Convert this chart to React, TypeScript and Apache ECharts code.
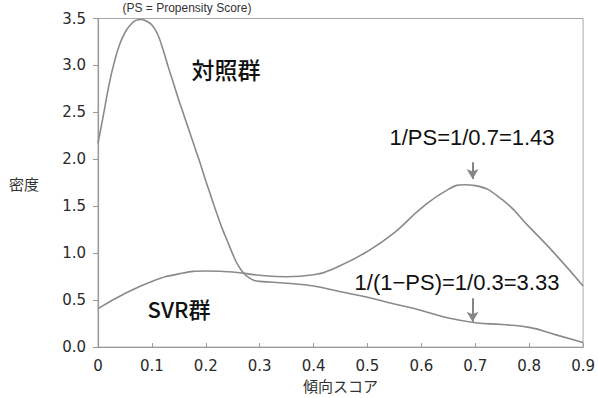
import React, { useEffect, useRef } from "react";
import * as echarts from "echarts";

const controlX = [0, 0.01, 0.02, 0.03, 0.04, 0.05, 0.06, 0.07, 0.08, 0.09, 0.1, 0.11, 0.12, 0.13, 0.14, 0.15, 0.16, 0.17, 0.18, 0.19, 0.2, 0.21, 0.22, 0.23, 0.24, 0.25, 0.26, 0.27, 0.28, 0.29, 0.3, 0.35, 0.4, 0.45, 0.5, 0.55, 0.6, 0.65, 0.7, 0.75, 0.8, 0.85, 0.9];
const controlY = [2.17, 2.47, 2.78, 3.03, 3.22, 3.35, 3.43, 3.48, 3.49, 3.47, 3.43, 3.34, 3.18, 2.99, 2.81, 2.63, 2.46, 2.29, 2.12, 1.95, 1.77, 1.6, 1.43, 1.27, 1.13, 0.99, 0.87, 0.79, 0.74, 0.71, 0.7, 0.68, 0.65, 0.59, 0.53, 0.46, 0.39, 0.31, 0.26, 0.24, 0.21, 0.13, 0.05];

const svrX = [0, 0.05, 0.1, 0.15, 0.2, 0.25, 0.3, 0.35, 0.4, 0.45, 0.5, 0.55, 0.6, 0.65, 0.68, 0.7, 0.75, 0.8, 0.85, 0.9];
const svrY = [0.41, 0.57, 0.7, 0.78, 0.81, 0.8, 0.765, 0.75, 0.77, 0.87, 1.02, 1.22, 1.48, 1.68, 1.73, 1.72, 1.57, 1.28, 0.98, 0.65];

const xTicks = ["0", "0.1", "0.2", "0.3", "0.4", "0.5", "0.6", "0.7", "0.8", "0.9"];

const arrowX = 0.695;
const arrowUpper = [1.97, 1.79];
const arrowLower = [0.52, 0.27];

const LINE = "#8a8a8a";
const AXIS = "#9a9a9a";

export default function App() {
  const ref = useRef<HTMLDivElement>(null);
  useEffect(() => {
    const chart = echarts.init(ref.current!, null, { renderer: "svg" });
    const arrowLine = (a: number[]) => [
      { coord: [arrowX, a[0]] },
      { coord: [arrowX, a[1]] },
    ];
    chart.setOption({
      animation: false,
      backgroundColor: "#ffffff",
      grid: {
        left: 98,
        right: 14,
        top: 18.5,
        bottom: 50,
        show: true,
        borderColor: "#a8a8a8",
        borderWidth: 1,
      },
      xAxis: {
        type: "value",
        min: 0,
        max: 0.9,
        interval: 0.1,
        name: "傾向スコア",
        nameLocation: "middle",
        nameGap: 30,
        nameTextStyle: { fontFamily: "Noto Sans CJK JP", fontSize: 15, color: "#333" },
        axisLine: { show: true, lineStyle: { color: AXIS, width: 1.2 } },
        axisTick: { show: true, inside: true, length: 4, lineStyle: { color: AXIS } },
        splitLine: { show: false },
        axisLabel: {
          margin: 11,
          fontFamily: "DejaVu Sans",
          fontSize: 15,
          color: "#2a2a2a",
          formatter: (v: number) => xTicks[Math.round(v * 10)] ?? "",
        },
      },
      yAxis: {
        type: "value",
        min: 0,
        max: 3.5,
        interval: 0.5,
        axisLine: { show: true, lineStyle: { color: AXIS, width: 1.2 } },
        axisTick: { show: true, inside: false, length: 5, lineStyle: { color: AXIS } },
        splitLine: { show: false },
        axisLabel: {
          margin: 12,
          fontFamily: "DejaVu Sans",
          fontSize: 15,
          color: "#2a2a2a",
          formatter: (v: number) => v.toFixed(1),
        },
      },
      series: [
        {
          name: "対照群",
          type: "line",
          data: controlX.map((x, i) => [x, controlY[i]]),
          smooth: 0.5,
          showSymbol: false,
          lineStyle: { color: LINE, width: 1.6 },
          markLine: {
            silent: true,
            symbol: ["none", "arrow"],
            symbolSize: [9, 10],
            label: { show: false },
            lineStyle: { color: "#858585", width: 2, type: "solid" },
            data: [arrowLine(arrowLower)],
          },
        },
        {
          name: "SVR群",
          type: "line",
          data: svrX.map((x, i) => [x, svrY[i]]),
          smooth: 0.5,
          showSymbol: false,
          lineStyle: { color: LINE, width: 1.6 },
          markLine: {
            silent: true,
            symbol: ["none", "arrow"],
            symbolSize: [9, 10],
            label: { show: false },
            lineStyle: { color: "#858585", width: 2, type: "solid" },
            data: [arrowLine(arrowUpper)],
          },
        },
      ],
      graphic: [
        {
          type: "text",
          x: 187,
          y: 8,
          style: {
            text: "(PS = Propensity Score)",
            font: "12px 'Liberation Sans'",
            fill: "#333",
            textAlign: "center",
            textVerticalAlign: "middle",
          },
        },
        {
          type: "text",
          x: 226,
          y: 69,
          style: {
            text: "対照群",
            font: "500 23px 'Noto Sans CJK JP'",
            fill: "#111",
            textAlign: "center",
            textVerticalAlign: "middle",
          },
        },
        {
          type: "text",
          x: 179,
          y: 308,
          style: {
            text: "SVR群",
            font: "500 22px 'Noto Sans CJK JP'",
            fill: "#111",
            textAlign: "center",
            textVerticalAlign: "middle",
          },
        },
        {
          type: "text",
          x: 472,
          y: 137,
          style: {
            text: "1/PS=1/0.7=1.43",
            font: "22px 'Liberation Sans'",
            fill: "#111",
            textAlign: "center",
            textVerticalAlign: "middle",
          },
        },
        {
          type: "text",
          x: 457,
          y: 282,
          style: {
            text: "1/(1−PS)=1/0.3=3.33",
            font: "22px 'Liberation Sans'",
            fill: "#111",
            textAlign: "center",
            textVerticalAlign: "middle",
          },
        },
        {
          type: "text",
          x: 24,
          y: 183,
          style: {
            text: "密度",
            font: "15px 'Noto Sans CJK JP'",
            fill: "#333",
            textAlign: "center",
            textVerticalAlign: "middle",
          },
        },
      ],
    });
    return () => chart.dispose();
  }, []);
  return <div ref={ref} style={{ width: 598, height: 398, position: "fixed", left: 0, top: 0 }} />;
}
